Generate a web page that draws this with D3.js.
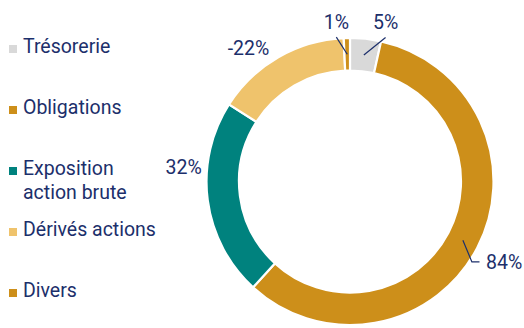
<!DOCTYPE html>
<html>
<head>
<meta charset="utf-8">
<script src="https://cdn.jsdelivr.net/npm/d3@7/dist/d3.min.js"></script>
<style>
  html, body { margin: 0; padding: 0; background: #fff; }
  svg { display: block; font-family: Roboto, "Noto Sans", sans-serif; }
</style>
</head>
<body>
<svg id="chart" width="524" height="328"></svg>
<script>
// Allocation breakdown (percent of net assets)
const categories = ["Trésorerie", "Obligations", "Exposition action brute", "Dérivés actions", "Divers"];
const legendLines = [["Trésorerie"], ["Obligations"], ["Exposition", "action brute"], ["Dérivés actions"], ["Divers"]];
const values = [5, 84, 32, -22, 1];
const colors = ["#d9d9d9", "#cd8f1a", "#00827e", "#efc36c", "#cd8f1a"];

const textColor = "#1c2f6b";
const fontSize = 19.5;
const svg = d3.select("#chart");

const data = categories.map((c, i) => ({ name: c, value: values[i], color: colors[i], lines: legendLines[i] }));

// ---- Legend ----
const legendY = d3.scaleLinear().domain([0, data.length - 1]).range([53, 297]);
const legend = svg.append("g");
data.forEach((d, i) => {
  const y = legendY(i);
  legend.append("rect")
    .attr("x", 9).attr("y", y - 8).attr("width", 8).attr("height", 8)
    .attr("fill", d.color);
  const t = legend.append("text")
    .attr("x", 23).attr("y", y)
    .attr("font-size", fontSize).attr("fill", textColor);
  d.lines.forEach((line, j) => {
    t.append("tspan").attr("x", 23).attr("dy", j === 0 ? 0 : 24).text(line);
  });
});

// ---- Donut ----
const cx = 350, cy = 181.5;
const outerR = 143.5, innerR = 111;
const midR = (outerR + innerR) / 2;

const pie = d3.pie().value(d => Math.abs(d.value)).sort(null);
const arc = d3.arc().innerRadius(innerR).outerRadius(outerR);
const arcs = pie(data);

const g = svg.append("g").attr("transform", `translate(${cx},${cy})`);
g.selectAll("path.slice")
  .data(arcs)
  .join("path")
  .attr("class", "slice")
  .attr("d", arc)
  .attr("fill", d => d.data.color)
  .attr("stroke", "#fff")
  .attr("stroke-width", 2.2);

// polar helper: angle measured clockwise from 12 o'clock
const polar = (r, a) => [r * Math.sin(a), -r * Math.cos(a)];
const deg = Math.PI / 180;

// label placement per slice: angular nudge, radius, and leader style
const labelLayout = {
  "Trésorerie": { shift: 6.35, r: 163, leader: "straight" },
  "Obligations": { shift: 5.9, r: 146, leader: "elbow" },
  "Exposition action brute": { shift: 12.3, r: 167, leader: "none" },
  "Dérivés actions": { shift: -7.2, r: 168, leader: "none" },
  "Divers": { shift: -3.65, r: 160, leader: "straight" }
};

const labels = g.append("g");
arcs.forEach(a => {
  const mid = (a.startAngle + a.endAngle) / 2;
  const lay = labelLayout[a.data.name];
  const txt = a.data.value + "%";
  const start = polar(midR, mid);
  if (lay.leader === "elbow") {
    const bend = polar(lay.r, mid + lay.shift * deg);
    const end = [bend[0] + 7.6, bend[1]];
    labels.append("polyline")
      .attr("points", [start, bend, end].map(p => p.join(",")).join(" "))
      .attr("fill", "none").attr("stroke", textColor).attr("stroke-width", 1.2);
    labels.append("text")
      .attr("x", end[0] + 6.5).attr("y", end[1]).attr("dy", "0.35em")
      .attr("font-size", fontSize).attr("fill", textColor)
      .text(txt);
  } else {
    const pos = polar(lay.r, mid + lay.shift * deg);
    if (lay.leader === "straight") {
      labels.append("line")
        .attr("x1", start[0]).attr("y1", start[1])
        .attr("x2", pos[0]).attr("y2", pos[1] + 15)
        .attr("stroke", textColor).attr("stroke-width", 1.2);
    }
    labels.append("text")
      .attr("x", pos[0]).attr("y", pos[1]).attr("dy", "0.35em")
      .attr("text-anchor", "middle")
      .attr("font-size", fontSize).attr("fill", textColor)
      .text(txt);
  }
});
</script>
</body>
</html>
